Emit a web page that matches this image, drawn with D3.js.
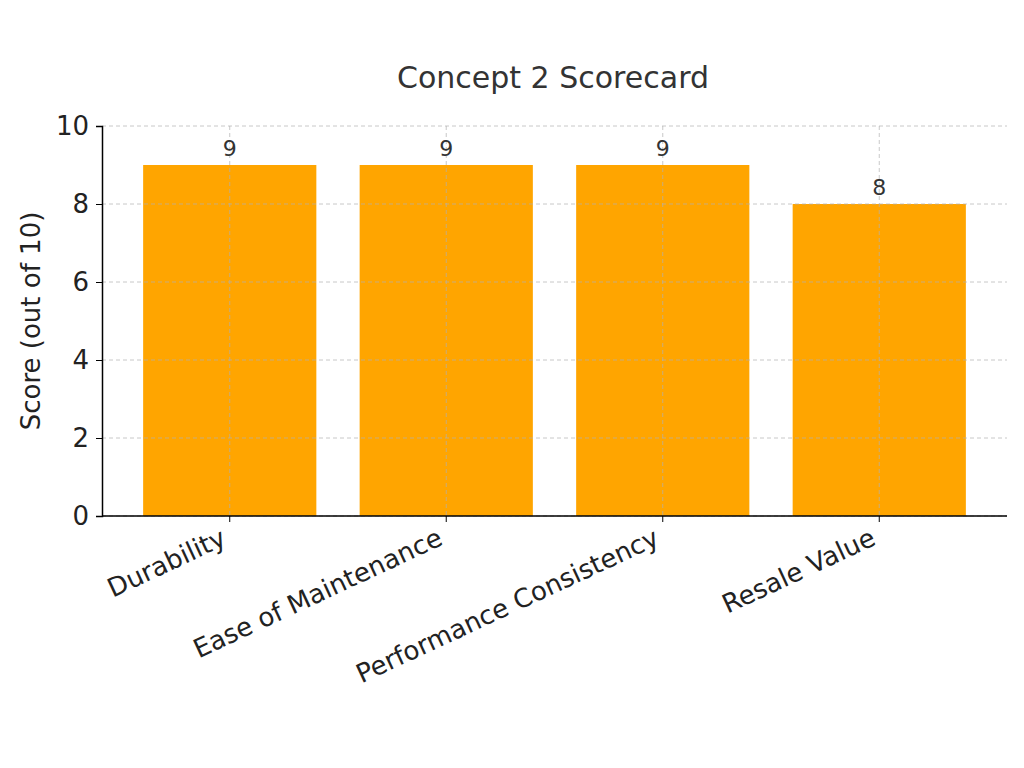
<!DOCTYPE html>
<html><head><meta charset="utf-8">
<script src="https://d3js.org/d3.v7.min.js"></script>
<style>body{margin:0;background:#fff}svg{font-family:"DejaVu Sans",sans-serif}</style>
</head><body><svg id="c" width="1024" height="768"></svg>
<script>
const categories = ["Durability","Ease of Maintenance","Performance Consistency","Resale Value"];
const scores = [9,9,9,8];
const yTicks = [0,2,4,6,8,10];
const title = "Concept 2 Scorecard";
const yLabel = "Score (out of 10)";

const svg = d3.select("#c");
const L=102,R=1007,T=126,B=516;
const x = d3.scaleBand().domain(categories).range([L,R]).paddingInner(0.2).paddingOuter(0.19);
const y = d3.scaleLinear().domain([0,10]).range([B,T]);

svg.selectAll("rect.bar").data(categories).enter().append("rect")
  .attr("x",d=>x(d)).attr("width",x.bandwidth())
  .attr("y",(d,i)=>y(scores[i])).attr("height",(d,i)=>y(0)-y(scores[i]))
  .attr("fill","#ffa500");

const g = svg.append("g");
g.selectAll("line.h").data(yTicks).enter().append("line")
  .attr("x1",L).attr("x2",R).attr("y1",d=>y(d)).attr("y2",d=>y(d))
  .attr("stroke","#b0b0b0").attr("stroke-opacity",0.7).attr("stroke-dasharray","4,3");
g.selectAll("line.v").data(categories).enter().append("line")
  .attr("x1",d=>x(d)+x.bandwidth()/2).attr("x2",d=>x(d)+x.bandwidth()/2)
  .attr("y1",T).attr("y2",B)
  .attr("stroke","#b0b0b0").attr("stroke-opacity",0.7).attr("stroke-dasharray","4,3");

svg.selectAll("text.val").data(categories).enter().append("text")
  .attr("x",d=>x(d)+x.bandwidth()/2).attr("y",(d,i)=>y(scores[i])-9)
  .attr("text-anchor","middle").attr("font-size",22).attr("fill","#333")
  .text((d,i)=>scores[i]);

const ya = svg.append("g").attr("transform",`translate(${L},0)`)
  .call(d3.axisLeft(y).tickValues(yTicks).tickSize(6).tickPadding(7));
ya.selectAll("text").attr("font-size",26).attr("fill","#222").style("font-family","DejaVu Sans");
ya.select(".domain").attr("stroke","#000").attr("stroke-width",1.5);

const xa = svg.append("g").attr("transform",`translate(0,${B})`)
  .call(d3.axisBottom(x).tickSize(6).tickSizeOuter(0));
xa.select(".domain").attr("stroke","#000").attr("stroke-width",1.5).attr("d",`M${L},0H${R}`);
xa.selectAll("text").attr("font-size",26).attr("fill","#222").style("font-family","DejaVu Sans")
  .attr("text-anchor","end").attr("dy","0").attr("y",0)
  .attr("transform","translate(-2,28) rotate(-25)");

svg.append("text").attr("x",553).attr("y",88).attr("text-anchor","middle")
  .attr("font-size",30).attr("fill","#333").text(title);
svg.append("text").attr("transform","translate(40,321) rotate(-90)").attr("text-anchor","middle")
  .attr("font-size",26).attr("fill","#222").text(yLabel);
</script></body></html>
